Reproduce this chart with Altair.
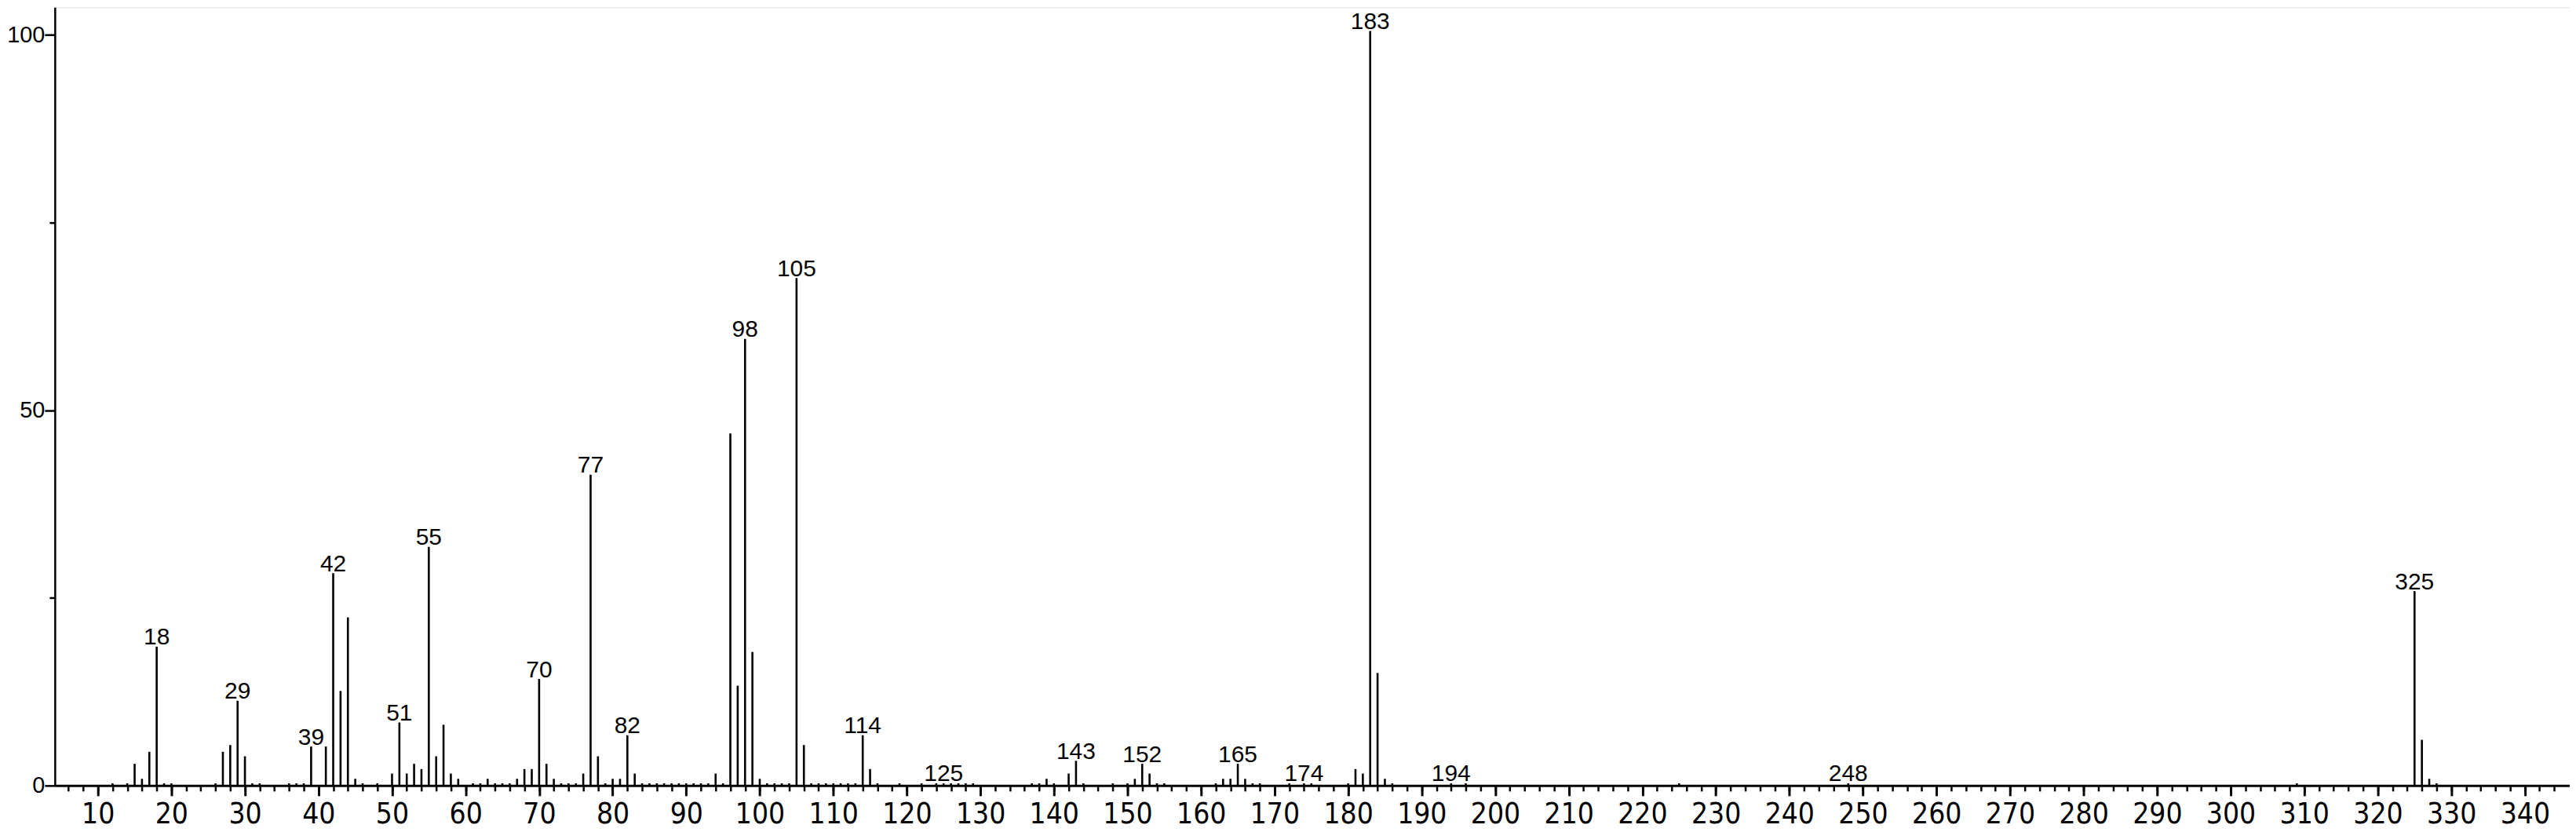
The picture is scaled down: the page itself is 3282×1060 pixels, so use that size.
import altair as alt
import pandas as pd

# m/z values and relative intensities
mz = [12, 14, 15, 16, 17, 18, 19, 20, 26, 27, 28, 29, 30, 31, 32, 36, 37, 38, 39, 41,
      42, 43, 44, 45, 46, 48, 50, 51, 52, 53, 54, 55, 56, 57, 58, 59, 61, 62, 63, 64,
      65, 66, 67, 68, 69, 70, 71, 72, 73, 74, 75, 76, 77, 78, 79, 80, 81, 82, 83, 84,
      85, 86, 87, 88, 89, 90, 91, 92, 93, 94, 95, 96, 97, 98, 99, 100, 101, 102, 103, 104,
      105, 106, 107, 108, 109, 110, 111, 112, 113, 114, 115, 116, 119, 122, 124, 125, 126, 127, 128, 129,
      137, 138, 139, 140, 142, 143, 144, 148, 150, 151, 152, 153, 154, 155, 162, 163, 164, 165, 166, 167,
      168, 172, 174, 175, 180, 181, 182, 183, 184, 185, 186, 194, 196, 225, 248, 309, 325, 326, 327, 328]
intensity = [0.3, 0.3, 2.9, 0.9, 4.5, 18.5, 0.3, 0.3, 0.3, 4.5, 5.4, 11.3, 3.9, 0.3, 0.3, 0.3, 0.3, 0.3, 5.2, 5.2,
             28.3, 12.6, 22.4, 0.9, 0.3, 0.3, 1.6, 8.4, 1.6, 2.9, 2.2, 31.8, 3.9, 8.1, 1.6, 0.9, 0.3, 0.3, 0.9, 0.3,
             0.3, 0.3, 0.9, 2.2, 2.2, 14.2, 2.9, 0.9, 0.3, 0.3, 0.3, 1.6, 41.4, 3.9, 0.3, 0.9, 0.9, 6.7, 1.6, 0.3,
             0.3, 0.3, 0.3, 0.3, 0.3, 0.3, 0.3, 0.3, 0.3, 1.6, 0.3, 46.9, 13.3, 59.5, 17.8, 0.9, 0.3, 0.3, 0.3, 0.3,
             67.6, 5.4, 0.3, 0.3, 0.3, 0.3, 0.3, 0.3, 0.3, 6.7, 2.2, 0.3, 0.3, 0.3, 0.3, 0.3, 0.3, 0.3, 0.3, 0.3,
             0.3, 0.3, 0.9, 0.3, 1.6, 3.3, 0.3, 0.3, 0.3, 0.9, 2.9, 1.6, 0.3, 0.3, 0.3, 0.9, 0.9, 2.9, 0.9, 0.3,
             0.3, 0.3, 0.3, 0.3, 0.3, 2.2, 1.6, 100.5, 15.0, 0.9, 0.3, 0.3, 0.3, 0.3, 0.3, 0.3, 25.9, 6.1, 0.9, 0.3]
labeled_mz = [18, 29, 39, 42, 51, 55, 70, 77, 82, 98, 105, 114, 125, 143, 152, 165, 174, 183, 194, 248, 325]

x_major_ticks = list(range(10, 341, 10))
x_minor_ticks = list(range(6, 346, 2))
y_major_ticks = [0, 50, 100]
y_minor_ticks = [25, 75]

df = pd.DataFrame({"mz": mz, "intensity": intensity})
lab = df[df["mz"].isin(labeled_mz)].copy()
lab["text"] = lab["mz"].astype(str)

SANS = "Liberation Sans, Arial, Helvetica, sans-serif"
NARROW = "Liberation Sans Narrow, Arial Narrow, DejaVu Sans Condensed, Liberation Sans, sans-serif"

xs = alt.Scale(domain=[4.15, 346.1], nice=False, zero=False)
ys = alt.Scale(domain=[0, 103.65], nice=False, zero=False)

peaks = alt.Chart(df).mark_rule(color="black", strokeWidth=2.6, strokeCap="butt").encode(
    x=alt.X("mz:Q", scale=xs, axis=alt.Axis(
        orient="bottom", values=x_major_ticks, title=None, grid=False,
        domain=True, domainColor="black", domainWidth=3,
        ticks=True, tickSize=13, tickWidth=3, tickColor="black",
        labels=True, labelFont=NARROW, labelFontSize=37, labelColor="black",
        labelPadding=6, labelFlush=False, labelOverlap=False)),
    y=alt.Y("intensity:Q", scale=ys, axis=alt.Axis(
        orient="left", values=y_major_ticks, title=None, grid=False,
        domain=True, domainColor="black", domainWidth=2.5,
        ticks=True, tickSize=13, tickWidth=2.5, tickColor="black",
        labels=True, labelFont=SANS, labelFontSize=29, labelColor="black",
        labelPadding=0, labelFlush=False, labelOverlap=False)),
    y2=alt.datum(0),
)

minor = alt.Chart(df).mark_point(opacity=0).encode(
    x=alt.X("mz:Q", scale=xs, axis=alt.Axis(
        orient="bottom", values=x_minor_ticks, title=None, grid=False,
        domain=False, labels=False, ticks=True, tickSize=7, tickWidth=2.5, tickColor="black")),
    y=alt.Y("intensity:Q", scale=ys, axis=alt.Axis(
        orient="left", values=y_minor_ticks, title=None, grid=False,
        domain=False, labels=False, ticks=True, tickSize=7, tickWidth=2.5, tickColor="black")),
)

texts = alt.Chart(lab).mark_text(
    align="center", baseline="alphabetic", dy=-2.5, font=SANS, fontSize=30, color="black"
).encode(
    x=alt.X("mz:Q", scale=xs, axis=None),
    y=alt.Y("intensity:Q", scale=ys, axis=None),
    text="text:N",
)

chart = alt.layer(peaks, minor, texts).resolve_axis(
    x="independent", y="independent"
).properties(
    width=3212, height=994,
    autosize=alt.AutoSizeParams(type="none"),
    padding={"left": 62, "top": 0, "right": 0, "bottom": 60},
).configure_view(stroke=None).configure(background="white")

chart.save("out.html", embed_options={"renderer": "svg", "actions": False})
